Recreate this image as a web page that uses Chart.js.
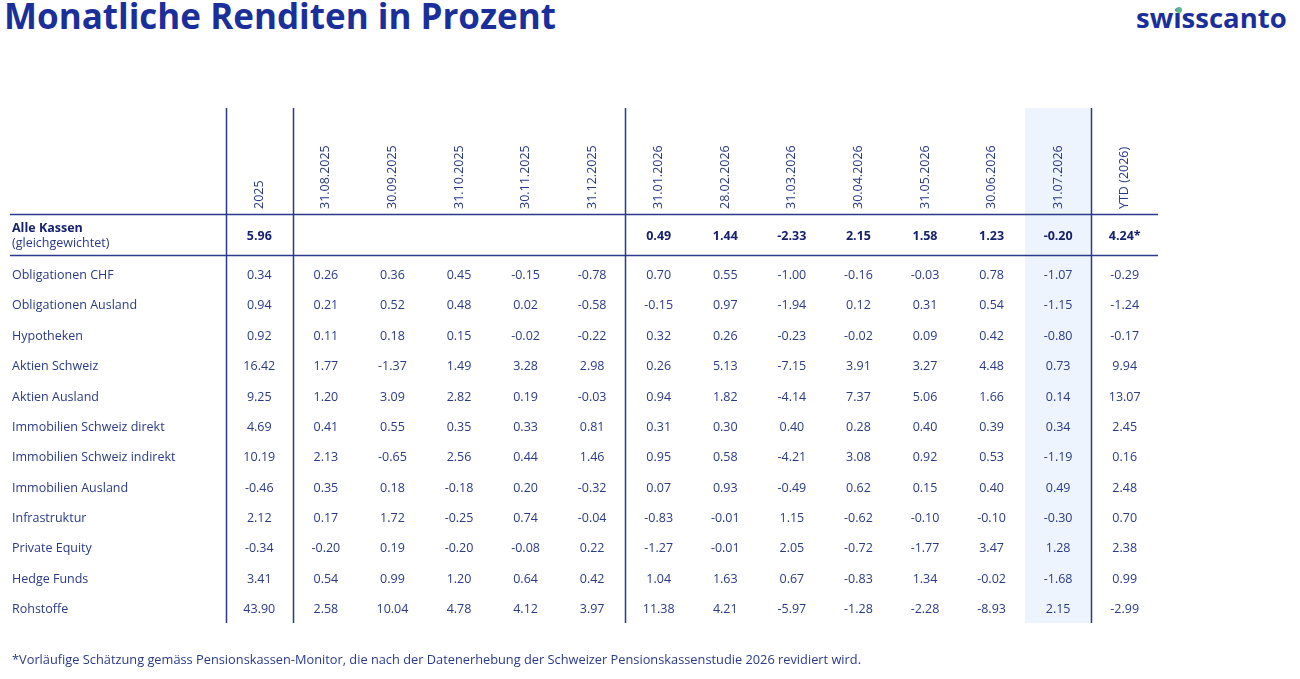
<!DOCTYPE html>
<html>
<head>
<meta charset="utf-8">
<script src="https://cdn.jsdelivr.net/npm/chart.js@4.4.1/dist/chart.umd.min.js"></script>
<style>
html, body { margin: 0; padding: 0; background: #fff; }
body { width: 1300px; height: 679px; position: relative; overflow: hidden; font-family: 'Open Sans', sans-serif; }
#title { position: absolute; left: 4px; top: -4px; font-size: 35px; line-height: 40px; font-weight: 700; color: #1b2f9b; }
#logo { position: absolute; left: 1136px; top: 0px; font-size: 27.5px; line-height: 36px; font-weight: 700; color: #1b2f9b; }
#dot { position: absolute; left: 1175.5px; top: 6.5px; width: 6px; height: 6px; border-radius: 50%; background: #5cb88f; }
#note { position: absolute; left: 12px; top: 649px; font-size: 12.8px; line-height: 20px; color: #2a3a8a; }
#table { position: absolute; left: 0; top: 0; }
</style>
</head>
<body>
<div id="title">Monatliche Renditen in Prozent</div>
<div id="logo">swisscanto</div>
<div id="dot"></div>
<canvas id="table" width="1300" height="679"></canvas>
<div id="note">*Vorläufige Schätzung gemäss Pensionskassen-Monitor, die nach der Datenerhebung der Schweizer Pensionskassenstudie 2026 revidiert wird.</div>
<script>
// columns of the table (x categories)
const columns = ['2025', '31.08.2025', '30.09.2025', '31.10.2025', '30.11.2025', '31.12.2025',
    '31.01.2026', '28.02.2026', '31.03.2026', '30.04.2026', '31.05.2026', '30.06.2026', '31.07.2026', 'YTD (2026)'];
const highlightColumn = '31.07.2026';
const separatorsBefore = ['2025', '31.08.2025', '31.01.2026', 'YTD (2026)'];

// total row
const totalName = 'Alle Kassen';
const totalSub = '(gleichgewichtet)';
const totalValues = [5.96, null, null, null, null, null, 0.49, 1.44, -2.33, 2.15, 1.58, 1.23, -0.20, 4.24];
const totalMarks = ['', '', '', '', '', '', '', '', '', '', '', '', '', '*'];

// asset classes
const rowNames = ['Obligationen CHF', 'Obligationen Ausland', 'Hypotheken', 'Aktien Schweiz', 'Aktien Ausland',
    'Immobilien Schweiz direkt', 'Immobilien Schweiz indirekt', 'Immobilien Ausland', 'Infrastruktur',
    'Private Equity', 'Hedge Funds', 'Rohstoffe'];
const obligationenChf   = [0.34, 0.26, 0.36, 0.45, -0.15, -0.78, 0.70, 0.55, -1.00, -0.16, -0.03, 0.78, -1.07, -0.29];
const obligationenAusl  = [0.94, 0.21, 0.52, 0.48, 0.02, -0.58, -0.15, 0.97, -1.94, 0.12, 0.31, 0.54, -1.15, -1.24];
const hypotheken        = [0.92, 0.11, 0.18, 0.15, -0.02, -0.22, 0.32, 0.26, -0.23, -0.02, 0.09, 0.42, -0.80, -0.17];
const aktienSchweiz     = [16.42, 1.77, -1.37, 1.49, 3.28, 2.98, 0.26, 5.13, -7.15, 3.91, 3.27, 4.48, 0.73, 9.94];
const aktienAusland     = [9.25, 1.20, 3.09, 2.82, 0.19, -0.03, 0.94, 1.82, -4.14, 7.37, 5.06, 1.66, 0.14, 13.07];
const immoChDirekt      = [4.69, 0.41, 0.55, 0.35, 0.33, 0.81, 0.31, 0.30, 0.40, 0.28, 0.40, 0.39, 0.34, 2.45];
const immoChIndirekt    = [10.19, 2.13, -0.65, 2.56, 0.44, 1.46, 0.95, 0.58, -4.21, 3.08, 0.92, 0.53, -1.19, 0.16];
const immoAusland       = [-0.46, 0.35, 0.18, -0.18, 0.20, -0.32, 0.07, 0.93, -0.49, 0.62, 0.15, 0.40, 0.49, 2.48];
const infrastruktur     = [2.12, 0.17, 1.72, -0.25, 0.74, -0.04, -0.83, -0.01, 1.15, -0.62, -0.10, -0.10, -0.30, 0.70];
const privateEquity     = [-0.34, -0.20, 0.19, -0.20, -0.08, 0.22, -1.27, -0.01, 2.05, -0.72, -1.77, 3.47, 1.28, 2.38];
const hedgeFunds        = [3.41, 0.54, 0.99, 1.20, 0.64, 0.42, 1.04, 1.63, 0.67, -0.83, 1.34, -0.02, -1.68, 0.99];
const rohstoffe         = [43.90, 2.58, 10.04, 4.78, 4.12, 3.97, 11.38, 4.21, -5.97, -1.28, -2.28, -8.93, 2.15, -2.99];
const rowValues = [obligationenChf, obligationenAusl, hypotheken, aktienSchweiz, aktienAusland, immoChDirekt,
    immoChIndirekt, immoAusland, infrastruktur, privateEquity, hedgeFunds, rohstoffe];

const FONT = "'Open Sans', sans-serif";
const textColor = '#2a3a86';
const boldColor = '#16226e';
const lineColor = '#2b3a8c';
const TOTAL_ROW = -1.3;    // total row sits in the taller band above the rows
const TOTAL_RULE = -0.69;  // rule between total row and asset classes

function toPoints(values, y, marks){
    const pts = [];
    values.forEach((v, i) => {
        if (v === null) return;
        pts.push({ x: columns[i], y: y, v: v, mark: marks ? marks[i] : '' });
    });
    return pts;
}

const datasets = [{ label: totalName, sub: totalSub, bold: true, data: toPoints(totalValues, TOTAL_ROW, totalMarks) }];
rowNames.forEach((name, i) => {
    datasets.push({ label: name, bold: false, data: toPoints(rowValues[i], i) });
});

// light band behind the latest month (drawn before the header labels)
const highlight = {
    id: 'highlight',
    beforeDraw(chart){
        const { ctx, chartArea } = chart;
        const x = chart.scales.x;
        const half = (x.getPixelForValue(1) - x.getPixelForValue(0)) / 2;
        const hx = x.getPixelForValue(columns.indexOf(highlightColumn));
        ctx.save();
        ctx.fillStyle = '#eef4fd';
        ctx.fillRect(hx - half, x.top, half * 2, chartArea.bottom - x.top);
        ctx.restore();
    }
};

// table rules
const tableGrid = {
    id: 'tableGrid',
    beforeDatasetsDraw(chart){
        const { ctx, chartArea } = chart;
        const x = chart.scales.x, y = chart.scales.y;
        const half = (x.getPixelForValue(1) - x.getPixelForValue(0)) / 2;
        ctx.save();
        ctx.strokeStyle = lineColor;
        ctx.lineWidth = 1.5;
        separatorsBefore.forEach(c => {
            const px = Math.round(x.getPixelForValue(columns.indexOf(c)) - half) + 0.5;
            ctx.beginPath();
            ctx.moveTo(px, x.top);
            ctx.lineTo(px, chartArea.bottom);
            ctx.stroke();
        });
        [y.min, TOTAL_RULE].forEach(v => {
            const py = Math.round(y.getPixelForValue(v)) + 0.5;
            ctx.beginPath();
            ctx.moveTo(10, py);
            ctx.lineTo(chartArea.right, py);
            ctx.stroke();
        });
        ctx.restore();
    }
};

// numbers and row labels
const cellText = {
    id: 'cellText',
    afterDatasetsDraw(chart){
        const ctx = chart.ctx;
        const y = chart.scales.y;
        ctx.save();
        ctx.textBaseline = 'middle';
        chart.data.datasets.forEach((ds, di) => {
            const meta = chart.getDatasetMeta(di);
            ctx.fillStyle = ds.bold ? boldColor : textColor;
            ctx.font = (ds.bold ? '700 ' : '') + '12.5px ' + FONT;
            ctx.textAlign = 'center';
            meta.data.forEach((el, j) => {
                const p = ds.data[j];
                ctx.fillText(p.v.toFixed(2) + (p.mark || ''), el.x, el.y);
            });
            ctx.textAlign = 'left';
            const ry = y.getPixelForValue(ds.data[0].y);
            if (ds.sub) {
                ctx.fillText(ds.label, 12, ry - 8);
                ctx.font = '12.5px ' + FONT;
                ctx.fillStyle = textColor;
                ctx.fillText(ds.sub, 12, ry + 7);
            } else {
                ctx.fillText(ds.label, 12, ry);
            }
        });
        ctx.restore();
    }
};

new Chart(document.getElementById('table'), {
    type: 'scatter',
    data: { datasets: datasets },
    options: {
        responsive: false,
        animation: false,
        layout: { padding: { left: 226, right: 142, top: 108, bottom: 56 } },
        elements: { point: { radius: 0, hoverRadius: 0 } },
        plugins: { legend: { display: false }, tooltip: { enabled: false } },
        scales: {
            x: {
                type: 'category',
                labels: columns,
                position: 'top',
                offset: true,
                grid: { display: false, drawTicks: false },
                border: { display: false },
                ticks: { autoSkip: false, minRotation: 90, maxRotation: 90, padding: 5, labelOffset: 15,
                         color: textColor, font: { family: FONT, size: 12.5 } },
                afterFit(s){ s.height = 106; }
            },
            y: { type: 'linear', reverse: true, min: -2.03, max: 11.45, display: false }
        }
    },
    plugins: [highlight, tableGrid, cellText]
});
</script>
</body>
</html>
